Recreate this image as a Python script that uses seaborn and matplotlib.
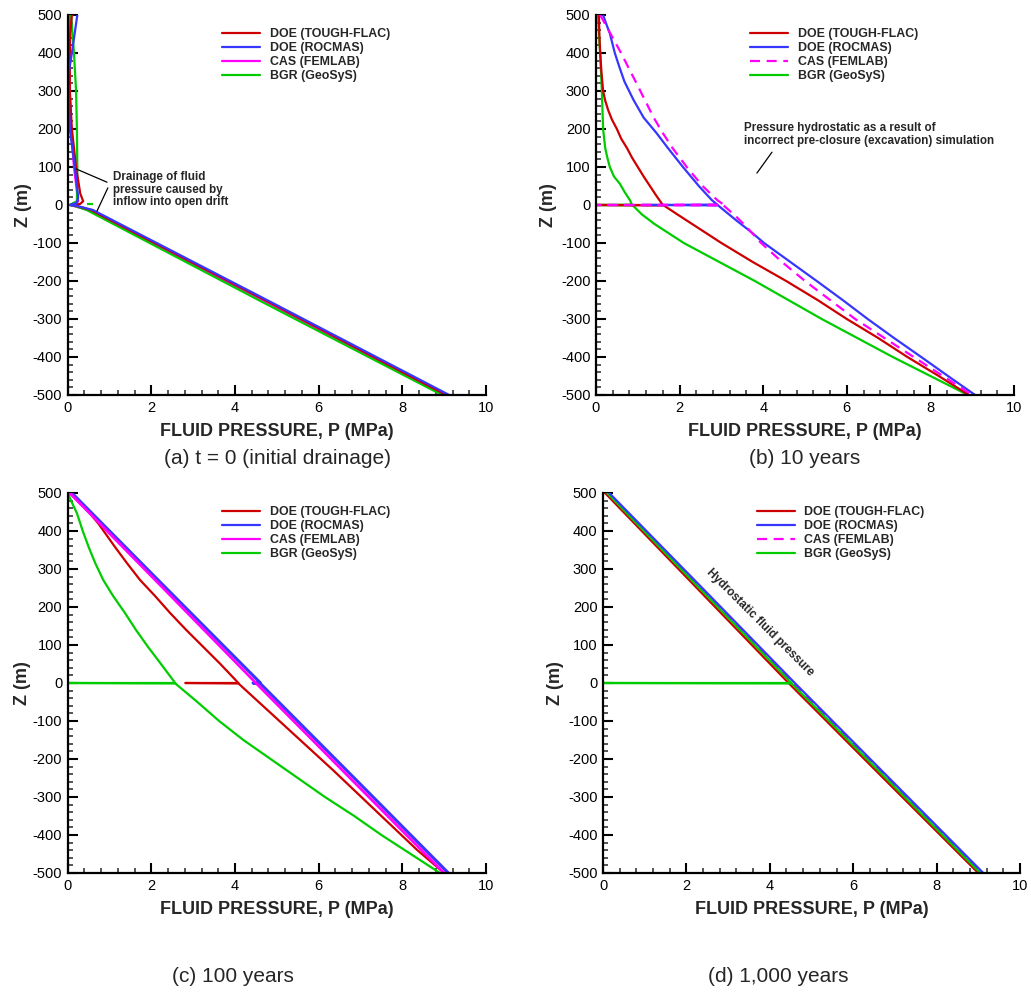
import matplotlib
matplotlib.use("Agg")
import matplotlib.pyplot as plt
from matplotlib.lines import Line2D
from matplotlib.ticker import MultipleLocator, FixedLocator
import seaborn as sns

# ---------------- data ----------------
LABELS = ["DOE (TOUGH-FLAC)", "DOE (ROCMAS)", "CAS (FEMLAB)", "BGR (GeoSyS)"]
COLORS = ["#CC0000", "#3636FF", "#FF00FF", "#00CC00"]
CAPTIONS = ["(a) t = 0 (initial drainage)", "(b) 10 years", "(c) 100 years", "(d) 1,000 years"]
X_TICKS = [0, 2, 4, 6, 8, 10]
Y_TICKS = [-500, -400, -300, -200, -100, 0, 100, 200, 300, 400, 500]
X_LABEL = "FLUID PRESSURE, P (MPa)"
Y_LABEL = "Z (m)"

# (a) t = 0
A_TOUGH_P = [0.10, 0.06, 0.05, 0.05, 0.10, 0.20, 0.30, 0.37, 0.30, 0.08, 0.20, 0.55, 4.80, 9.05]
A_TOUGH_Z = [500, 450, 400, 300, 200, 100, 30, 10, 3, 0, -2, -13, -255, -500]
A_ROCMAS_P = [0.23, 0.10, 0.00, 0.02, 0.05, 0.17, 0.25, 0.22, 0.05, 0.20, 0.60, 4.85, 9.12]
A_ROCMAS_Z = [500, 400, 330, 300, 200, 100, 20, 5, 0, -2, -13, -255, -500]
A_FEMLAB_P = [0.06, 0.05, 0.05, 0.08, 0.15, 0.25, 0.05, 0.50, 4.75, 9.00]
A_FEMLAB_Z = [500, 400, 300, 200, 100, 10, 0, -13, -255, -500]
A_GEOSYS_P = [0.08, 0.15, 0.20, 0.22, 0.23, 0.22, 0.05, 0.15, 0.45, 4.70, 8.95]
A_GEOSYS_Z = [500, 400, 300, 200, 100, 10, 0, -2, -13, -258, -500]
A_GEOSYS_MARK_P = [0.45, 0.60]
A_GEOSYS_MARK_Z = [3, 3]

# (b) 10 years
B_TOUGH_P = [0.07, 0.08, 0.10, 0.13, 0.17, 0.22, 0.29, 0.38, 0.50, 0.60, 0.74, 0.86, 1.00,
             1.14, 1.29, 1.44, 1.58, 1.60, 0.00, 1.62,
             1.95, 2.30, 2.65, 3.00, 3.75, 4.55, 5.30, 6.00, 6.75, 7.45, 8.20, 8.92]
B_TOUGH_Z = [500, 450, 400, 350, 300, 275, 250, 225, 200, 175, 150, 125, 100,
             75, 50, 25, 3, 0, 0, -1,
             -25, -50, -75, -100, -150, -200, -250, -300, -350, -400, -450, -500]
B_ROCMAS_P = [0.17, 0.25, 0.33, 0.45, 0.56, 0.68, 0.90, 1.14, 1.45, 1.72, 2.08, 2.46, 2.77, 2.90,
              1.10, 2.92,
              3.35, 3.70, 4.02, 4.65, 5.28, 5.90, 6.50, 7.13, 7.78, 8.42, 9.07]
B_ROCMAS_Z = [500, 475, 452, 400, 363, 325, 276, 230, 189, 150, 100, 50, 13, 1,
              0, -1,
              -40, -70, -100, -150, -200, -250, -300, -350, -400, -450, -500]
B_FEMLAB_P = [0.10, 0.35, 0.60, 0.77, 0.97, 1.17, 1.38, 1.60, 1.83, 2.17, 2.55, 2.90, 3.05,
              0.00, 3.05,
              3.35, 3.62, 3.95, 4.45, 5.00, 5.60, 6.20, 6.90, 7.60, 8.30, 9.00]
B_FEMLAB_Z = [500, 450, 400, 363, 320, 276, 230, 189, 150, 100, 50, 13, 1,
              0, -1,
              -30, -60, -100, -150, -200, -250, -300, -350, -400, -450, -500]
B_GEOSYS_P = [0.05, 0.07, 0.10, 0.12, 0.14, 0.155, 0.17, 0.22, 0.27, 0.33, 0.43, 0.57, 0.68,
              0.81, 0.86, 0.00, 0.88,
              1.10, 1.40, 1.75, 2.10, 2.95, 3.80, 4.60, 5.40, 6.25, 7.10, 8.00, 8.90]
B_GEOSYS_Z = [500, 450, 400, 350, 300, 250, 200, 150, 125, 100, 75, 56, 35,
              13, 1, 0, -1,
              -25, -50, -75, -100, -150, -200, -250, -300, -350, -400, -450, -500]

# (c) 100 years
C_TOUGH_P = [0.05, 0.28, 0.53, 0.73, 1.13, 1.42, 1.73, 2.08, 2.45, 2.83, 3.24, 3.65, 4.08,
             2.81, 4.08, 5.24, 6.35, 7.45, 8.35, 9.00]
C_TOUGH_Z = [500, 475, 447, 420, 358, 315, 271, 230, 184, 140, 95, 50, 0,
             0, -1, -118, -230, -345, -439, -500]
C_ROCMAS_P = [0.10, 2.35, 4.60, 4.43, 4.60, 6.85, 9.10]
C_ROCMAS_Z = [500, 250, 1, 0, -1, -250, -500]
C_FEMLAB_P = [0.05, 2.28, 4.50, 6.75, 9.00]
C_FEMLAB_Z = [500, 250, 0, -250, -500]
C_GEOSYS_P = [0.00, 0.10, 0.22, 0.36, 0.50, 0.66, 0.85, 1.08, 1.37, 1.63, 1.92, 2.23, 2.57,
              0.00, 2.57,
              3.10, 3.62, 4.20, 4.85, 5.50, 6.15, 6.85, 7.50, 8.20, 8.90]
C_GEOSYS_Z = [500, 475, 447, 400, 358, 315, 271, 230, 184, 140, 95, 50, 0,
              0, -1,
              -50, -100, -150, -200, -250, -300, -350, -400, -450, -500]

# (d) 1,000 years
D_TOUGH_P = [0.05, 2.25, 4.45, 6.72, 9.00]
D_TOUGH_Z = [500, 250, 0, -250, -500]
D_ROCMAS_P = [0.15, 2.38, 4.60, 6.86, 9.12]
D_ROCMAS_Z = [500, 250, 0, -250, -500]
D_FEMLAB_P = [0.12, 2.33, 4.55, 6.82, 9.08]
D_FEMLAB_Z = [500, 250, 0, -250, -500]
D_GEOSYS_P = [0.10, 2.31, 4.52, 0.00, 4.52, 6.78, 9.05]
D_GEOSYS_Z = [500, 250, 0, 0, -1, -250, -500]

# ---------------- style ----------------
sns.set_style("ticks")
plt.rcParams["font.family"] = ["Liberation Sans", "DejaVu Sans"]
plt.rcParams["axes.unicode_minus"] = False

W, H = 1031, 993
fig = plt.figure(figsize=(W / 100, H / 100), dpi=100)


def px_axes(left, top, right, bottom):
    return fig.add_axes([left / W, 1 - bottom / H, (right - left) / W, (bottom - top) / H])


ax_a = px_axes(67.7, 15, 486, 395)
ax_b = px_axes(596, 15, 1014, 395)
ax_c = px_axes(67.7, 493, 486, 873)
ax_d = px_axes(603, 493, 1020, 873)

DASHED = (0, (4.5, 3))
SOLID = "-"


def draw(ax, p, z, color, ls=SOLID, lw=1.6):
    sns.lineplot(x=p, y=z, sort=False, estimator=None, color=color,
                 linestyle=ls, linewidth=lw, ax=ax, legend=False)


# panel a
draw(ax_a, A_FEMLAB_P, A_FEMLAB_Z, COLORS[2])
draw(ax_a, A_GEOSYS_P, A_GEOSYS_Z, COLORS[3])
draw(ax_a, A_GEOSYS_MARK_P, A_GEOSYS_MARK_Z, COLORS[3], ls=DASHED)
draw(ax_a, A_TOUGH_P, A_TOUGH_Z, COLORS[0])
draw(ax_a, A_ROCMAS_P, A_ROCMAS_Z, COLORS[1])

# panel b
draw(ax_b, B_GEOSYS_P, B_GEOSYS_Z, COLORS[3])
draw(ax_b, B_TOUGH_P, B_TOUGH_Z, COLORS[0])
draw(ax_b, B_ROCMAS_P, B_ROCMAS_Z, COLORS[1])
draw(ax_b, B_FEMLAB_P, B_FEMLAB_Z, COLORS[2], ls=DASHED)

# panel c
draw(ax_c, C_GEOSYS_P, C_GEOSYS_Z, COLORS[3])
draw(ax_c, C_TOUGH_P, C_TOUGH_Z, COLORS[0])
draw(ax_c, C_ROCMAS_P, C_ROCMAS_Z, COLORS[1], lw=2.2)
draw(ax_c, C_FEMLAB_P, C_FEMLAB_Z, COLORS[2], lw=2.0)

# panel d
draw(ax_d, D_TOUGH_P, D_TOUGH_Z, COLORS[0])
draw(ax_d, D_FEMLAB_P, D_FEMLAB_Z, COLORS[2], ls=DASHED)
draw(ax_d, D_GEOSYS_P, D_GEOSYS_Z, COLORS[3])
draw(ax_d, D_ROCMAS_P, D_ROCMAS_Z, COLORS[1])

ylab_x = {ax_a: -0.085, ax_b: -0.093, ax_c: -0.088, ax_d: -0.094}
for ax, dashed in [(ax_a, False), (ax_b, True), (ax_c, False), (ax_d, True)]:
    ax.set_xlim(0, 10)
    ax.set_ylim(-500, 500)
    ax.xaxis.set_major_locator(FixedLocator(X_TICKS))
    ax.yaxis.set_major_locator(FixedLocator(Y_TICKS))
    ax.xaxis.set_minor_locator(MultipleLocator(0.4))
    ax.yaxis.set_minor_locator(MultipleLocator(20))
    ax.tick_params(which="major", direction="in", length=7.2, width=1.5,
                   labelsize=10.5, pad=4, colors="black")
    ax.tick_params(which="minor", direction="in", length=3.6, width=1.1)
    for s in ["top", "right"]:
        ax.spines[s].set_visible(False)
    for s in ["left", "bottom"]:
        ax.spines[s].set_linewidth(1.6)
        ax.spines[s].set_color("black")
    ax.set_xlabel(X_LABEL, fontsize=13, fontweight="bold")
    ax.set_ylabel(Y_LABEL, fontsize=13, fontweight="bold")
    ax.xaxis.set_label_coords(0.5, -0.074)
    ax.yaxis.set_label_coords(ylab_x[ax], 0.5)
    handles = []
    for i, (lab, col) in enumerate(zip(LABELS, COLORS)):
        ls = DASHED if (dashed and i == 2) else SOLID
        handles.append(Line2D([], [], color=col, lw=1.6, linestyle=ls, label=lab))
    ax.legend(handles=handles, loc="upper left", bbox_to_anchor=(0.369, 0.966),
              frameon=False, borderpad=0, borderaxespad=0, handlelength=3.05,
              handletextpad=0.8, labelspacing=0.17,
              prop={"size": 8.9, "weight": "bold"})

# annotations
ax_a.text(1.08, 40, "Drainage of fluid\npressure caused by\ninflow into open drift",
          fontsize=8.4, fontweight="bold", ha="left", va="center", linespacing=1.05)
ax_a.annotate("", xy=(0.2, 95), xytext=(0.94, 60),
              arrowprops=dict(arrowstyle="-", lw=0.9, color="black", shrinkA=0, shrinkB=0))
ax_a.annotate("", xy=(0.70, -16), xytext=(0.96, 45),
              arrowprops=dict(arrowstyle="-", lw=0.9, color="black", shrinkA=0, shrinkB=0))

ax_b.text(3.54, 186, "Pressure hydrostatic as a result of\nincorrect pre-closure (excavation) simulation",
          fontsize=8.4, fontweight="bold", ha="left", va="center", linespacing=1.05)
ax_b.annotate("", xy=(3.85, 84), xytext=(4.21, 139),
              arrowprops=dict(arrowstyle="-", lw=0.9, color="black", shrinkA=0, shrinkB=0))

ax_d.text(3.77, 160, "Hydrostatic fluid pressure", fontsize=8.5, fontweight="bold",
          rotation=-45, ha="center", va="center", rotation_mode="anchor")

# captions
cap_pos = [(277, 458), (805, 458), (233, 977), (778, 977)]
for (cx, cy), cap in zip(cap_pos, CAPTIONS):
    fig.text(cx / W, 1 - cy / H, cap, fontsize=15, ha="center", va="center")

fig.savefig("out.png", dpi=100)
